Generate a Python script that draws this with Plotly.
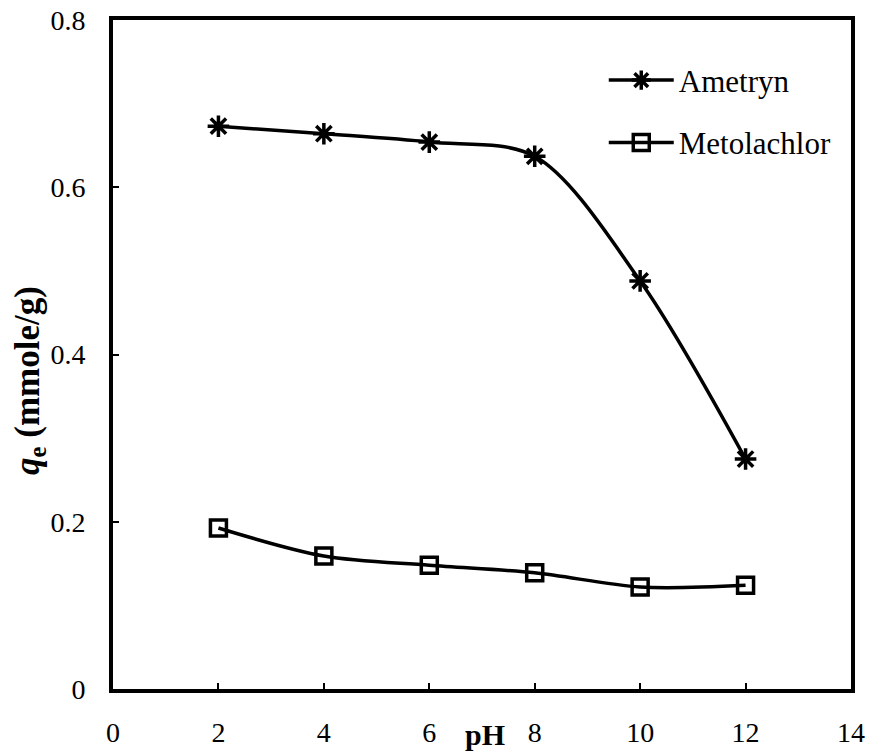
import plotly.graph_objects as go

ph = [2, 4, 6, 8, 10, 12]
ametryn = [0.673, 0.664, 0.654, 0.637, 0.488, 0.275]
metolachlor = [0.1925, 0.159, 0.148, 0.139, 0.122, 0.124]
x_ticks = [0, 2, 4, 6, 8, 10, 12, 14]
y_ticks = [0, 0.2, 0.4, 0.6, 0.8]
y_tick_text = ["0", "0.2", "0.4", "0.6", "0.8"]

FONT = "Times New Roman"

fig = go.Figure()
fig.add_trace(go.Scatter(
    x=ph, y=ametryn, name="Ametryn", mode="lines+markers",
    line=dict(color="black", width=3.5, shape="spline", smoothing=0.9),
    marker=dict(symbol="asterisk-open", size=18, color="black", line=dict(width=3.5, color="black")),
    legendgroup="a",
))
fig.add_trace(go.Scatter(
    x=ph, y=metolachlor, name="Metolachlor", mode="lines+markers",
    line=dict(color="black", width=3.5, shape="spline", smoothing=0.9),
    marker=dict(symbol="square-open", size=16, color="black", line=dict(width=3.5, color="black")),
    legendgroup="b",
))

fig.update_layout(
    width=873, height=756,
    margin=dict(l=113, r=22, t=20, b=67),
    paper_bgcolor="white", plot_bgcolor="white",
    font=dict(family=FONT, size=28, color="black"),
    showlegend=True,
    legend=dict(x=0.665, y=0.95, xanchor="left", yanchor="top",
                bgcolor="rgba(0,0,0,0)", font=dict(size=31, family=FONT),
                tracegroupgap=19, itemwidth=65),
    xaxis=dict(range=[0, 14], tickvals=x_ticks, ticktext=[str(v) for v in x_ticks],
               showline=True, linewidth=4, linecolor="black", mirror=True,
               ticks="inside", ticklen=6, tickwidth=2, tickcolor="black",
               showgrid=False, zeroline=False, ticklabelstandoff=15, automargin=False,
               tickfont=dict(size=28, family=FONT)),
    yaxis=dict(range=[0, 0.8], tickvals=y_ticks, ticktext=y_tick_text,
               showline=True, linewidth=4, linecolor="black", mirror=True,
               ticks="inside", ticklen=6, tickwidth=2, tickcolor="black",
               showgrid=False, zeroline=False, ticklabelstandoff=18, automargin=False,
               tickfont=dict(size=28, family=FONT)),
)

fig.add_annotation(text="<b>pH</b>", xref="paper", yref="paper", x=0.504, y=-0.068,
                   xanchor="center", yanchor="middle", showarrow=False,
                   font=dict(size=30, family=FONT))
fig.add_annotation(text="<b><i>q</i><sub>e</sub> (mmole/g)</b>", xref="paper", yref="paper",
                   x=-0.1125, y=0.462, xanchor="center", yanchor="middle", textangle=-90,
                   showarrow=False, font=dict(size=35, family=FONT))

fig.write_html("out.html")
